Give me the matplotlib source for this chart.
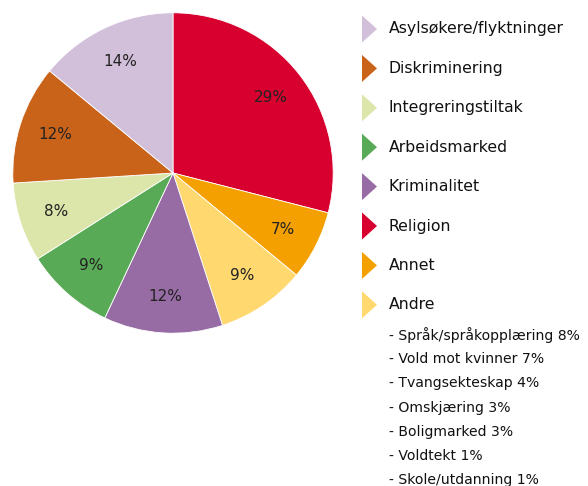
import matplotlib
matplotlib.use("Agg")
import matplotlib.pyplot as plt
from matplotlib.patches import Polygon

# pie data, clockwise from 12 o'clock
kategorier = ["Religion", "Annet", "Andre", "Kriminalitet", "Arbeidsmarked",
              "Integreringstiltak", "Diskriminering", "Asylsøkere/flyktninger"]
andeler = [29, 7, 9, 12, 9, 8, 12, 14]
farger = ["#D7002E", "#F3A000", "#FFD86F", "#976BA3", "#59AA56",
          "#DCE5AA", "#C9631A", "#D2BFD9"]

# legend order as in the reference
legend_rekke = ["Asylsøkere/flyktninger", "Diskriminering", "Integreringstiltak",
                "Arbeidsmarked", "Kriminalitet", "Religion", "Annet", "Andre"]
andre_liste = ["- Språk/språkopplæring 8%", "- Vold mot kvinner 7%",
               "- Tvangsekteskap 4%", "- Omskjæring 3%", "- Boligmarked 3%",
               "- Voldtekt 1%", "- Skole/utdanning 1%"]

W, H = 588, 486
fig = plt.figure(figsize=(W / 100, H / 100), dpi=100)

# pie
ax = fig.add_axes([12 / W, (H - 334) / H, 322 / W, 322 / H])
wedges, tekster, pct = ax.pie(andeler, colors=farger, startangle=90, counterclock=False,
                              autopct="%d%%", pctdistance=0.77,
                              wedgeprops=dict(edgecolor="white", linewidth=0.6),
                              textprops=dict(fontsize=11, color="#222222"))
ax.set_aspect("equal")
ax.set_xlim(-1.005, 1.005)
ax.set_ylim(-1.005, 1.005)

# legend drawn in pixel coords
lax = fig.add_axes([0, 0, 1, 1])
lax.set_xlim(0, W)
lax.set_ylim(H, 0)
lax.axis("off")
lax.patch.set_alpha(0)

farge_av = dict(zip(kategorier, farger))
y0 = 29
dy = 39.4
for i, navn in enumerate(legend_rekke):
    y = y0 + i * dy
    tri = Polygon([[362, y - 13.5], [362, y + 13.5], [377, y]], closed=True,
                  facecolor=farge_av[navn], edgecolor="none")
    lax.add_patch(tri)
    lax.text(389, y, navn, fontsize=11.3, va="center", ha="left", color="#111111")

for j, linje in enumerate(andre_liste):
    lax.text(389, 335 + j * 24.2, linje, fontsize=10.1, va="center", ha="left",
             color="#111111")

fig.savefig("out.png", dpi=100)
